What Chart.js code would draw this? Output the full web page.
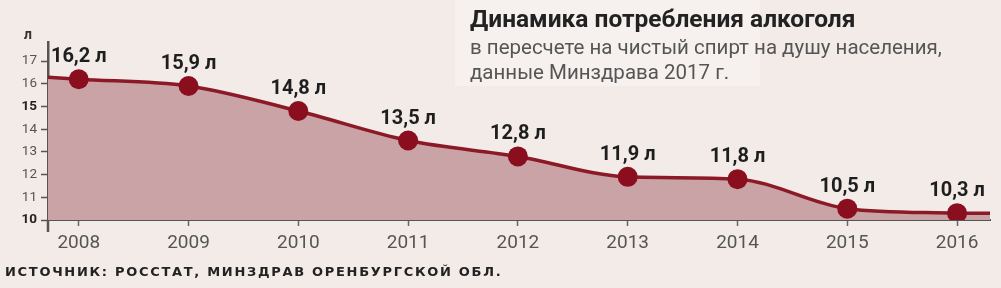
<!DOCTYPE html>
<html>
<head>
<meta charset="utf-8">
<script src="https://cdn.jsdelivr.net/npm/chart.js@4"></script>
<style>
  body { margin: 0; background: #f2ebe8; font-family: Roboto, sans-serif; }
  #wrap { position: relative; width: 1001px; height: 288px; overflow: hidden; }
  #chart { position: absolute; left: 0; top: 0; }
  .box { position: absolute; left: 455px; top: 0; width: 305px; height: 86px; background: #f6f1ef; }
  .title { position: absolute; left: 470px; top: 4px; font: bold 24.5px Roboto; color: #222; white-space: nowrap; }
  .sub { position: absolute; left: 470px; font: 20.5px Roboto; color: #555; white-space: nowrap; }
  .unit { position: absolute; left: 24px; top: 26px; font: bold 14px Roboto; color: #333; }
  .src { position: absolute; left: 5px; top: 264px; font: bold 13px "DejaVu Sans"; letter-spacing: 1.7px; color: #222; white-space: nowrap; }
</style>
</head>
<body>
<div id="wrap">
  <div class="box"></div>
  <canvas id="chart" width="1001" height="288"></canvas>
  <div class="title">Динамика потребления алкоголя</div>
  <div class="sub" style="top:35px">в пересчете на чистый спирт на душу населения,</div>
  <div class="sub" style="top:60px">данные Минздрава 2017 г.</div>
  <div class="unit">л</div>
  <div class="src">ИСТОЧНИК: РОССТАТ, МИНЗДРАВ ОРЕНБУРГСКОЙ ОБЛ.</div>
</div>
<script>
// data
const years = [2008, 2009, 2010, 2011, 2012, 2013, 2014, 2015, 2016];
const litres = [16.2, 15.9, 14.8, 13.5, 12.8, 11.9, 11.8, 10.5, 10.3];
const yTicks = [10, 11, 12, 13, 14, 15, 16, 17];

const lineColor = "#8c1a26";
const dotColor = "#8a0e1e";
const fillColor = "#c9a3a6";

// stretches the line and its fill out to the plot edges
const edgePlugin = {
    id: "edges",
    beforeDatasetsDraw(chart) {
        const pts = chart.getDatasetMeta(0).data;
        const area = chart.chartArea;
        const ctx = chart.ctx;
        const p0 = pts[0], p1 = pts[1], pn = pts[pts.length - 1];
        const slope = (p1.y - p0.y) / (p1.x - p0.x);
        const yl = p0.y - slope * (p0.x - area.left);
        ctx.save();
        ctx.fillStyle = fillColor;
        ctx.beginPath();
        ctx.moveTo(area.left, area.bottom);
        ctx.lineTo(area.left, yl);
        ctx.lineTo(p0.x + 0.5, p0.y);
        ctx.lineTo(p0.x + 0.5, area.bottom);
        ctx.fill();
        ctx.beginPath();
        ctx.moveTo(pn.x - 0.5, area.bottom);
        ctx.lineTo(pn.x - 0.5, pn.y);
        ctx.lineTo(area.right, pn.y);
        ctx.lineTo(area.right, area.bottom);
        ctx.fill();
        ctx.strokeStyle = lineColor;
        ctx.lineWidth = 3.5;
        ctx.beginPath();
        ctx.moveTo(area.left, yl);
        ctx.lineTo(p0.x, p0.y);
        ctx.moveTo(pn.x, pn.y);
        ctx.lineTo(area.right, pn.y);
        ctx.stroke();
        // y axis runs a little below the x axis
        ctx.strokeStyle = "#555";
        ctx.lineWidth = 2.5;
        ctx.beginPath();
        ctx.moveTo(area.left, area.bottom);
        ctx.lineTo(area.left, area.bottom + 12);
        ctx.stroke();
        ctx.restore();
    }
};

// value labels above the points
const labelPlugin = {
    id: "labels",
    afterDatasetsDraw(chart) {
        const ctx = chart.ctx;
        const pts = chart.getDatasetMeta(0).data;
        ctx.save();
        ctx.font = "bold 20px Roboto";
        ctx.fillStyle = "#1e1e1e";
        ctx.textAlign = "center";
        ctx.textBaseline = "alphabetic";
        pts.forEach((p, i) => {
            const txt = litres[i].toFixed(1).replace(".", ",") + " л";
            ctx.fillText(txt, p.x, p.y - 17);
        });
        ctx.restore();
    }
};

const points = years.map((y, i) => ({ x: y, y: litres[i] }));

new Chart(document.getElementById("chart"), {
    type: "line",
    data: {
        datasets: [{
            data: points,
            borderColor: lineColor,
            borderWidth: 3.5,
            backgroundColor: fillColor,
            fill: "start",
            cubicInterpolationMode: "monotone",
            pointRadius: 10,
            pointBackgroundColor: dotColor,
            pointBorderWidth: 0
        }]
    },
    options: {
        responsive: false,
        animation: false,
        layout: { padding: { top: 42, right: 11, bottom: 28, left: 0 } },
        plugins: { legend: { display: false }, tooltip: { enabled: false } },
        scales: {
            x: {
                type: "linear",
                min: 2007.72,
                max: 2016.3,
                afterBuildTicks: axis => { axis.ticks = years.map(v => ({ value: v })); },
                afterFit: axis => { axis.height = 40; },
                ticks: {
                    font: { family: "Roboto", size: 19 },
                    color: "#555",
                    padding: 6,
                    callback: v => String(v)
                },
                grid: { drawOnChartArea: false, tickLength: 6, color: "#666", tickWidth: 1.5 },
                border: { color: "#555", width: 2 }
            },
            y: {
                min: 10,
                max: 17.84,
                afterBuildTicks: axis => { axis.ticks = yTicks.map(v => ({ value: v })); },
                afterFit: axis => { axis.width = 48; },
                ticks: {
                    font: ctx => ({ family: "Roboto", size: 13.5, weight: ctx.tick && ctx.tick.value % 5 === 0 ? "bold" : "normal" }),
                    color: ctx => ctx.tick && ctx.tick.value % 5 === 0 ? "#222" : "#555",
                    padding: 4
                },
                grid: { drawOnChartArea: false, tickLength: 7, color: "#555", tickWidth: 1.5 },
                border: { color: "#555", width: 2.5 }
            }
        }
    },
    plugins: [edgePlugin, labelPlugin]
});
</script>
</body>
</html>
